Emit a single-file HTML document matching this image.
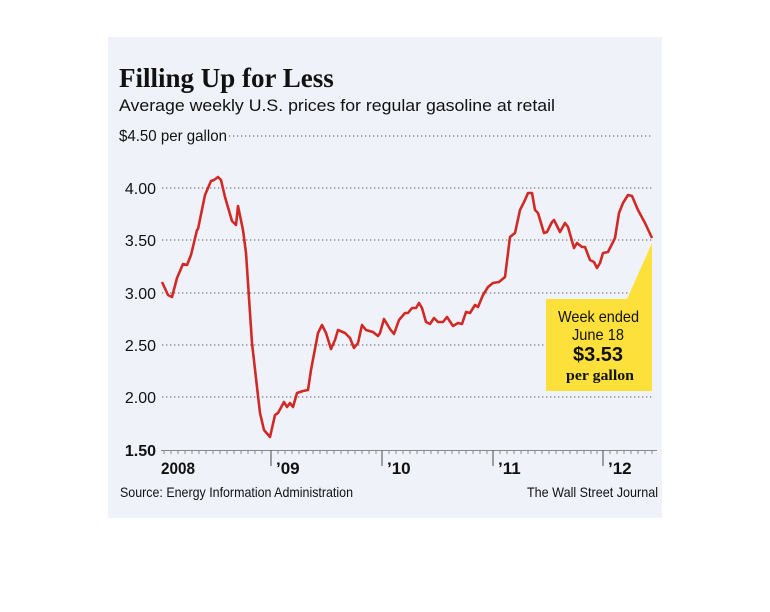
<!DOCTYPE html>
<html><head><meta charset="utf-8"><style>
body{margin:0;background:#fff;width:770px;height:612px;overflow:hidden}
svg{display:block}
.n{font-family:"Liberation Sans",sans-serif}
</style></head><body>
<svg width="770" height="612" viewBox="0 0 770 612" xmlns="http://www.w3.org/2000/svg">
<rect x="108" y="37" width="554" height="481" fill="#eff3f9"/>
<text x="119" y="87" font-family="Liberation Serif,serif" font-weight="bold" font-size="27" fill="#111">Filling Up for Less</text>
<text x="119" y="111" class="n" font-size="17" fill="#111" textLength="436" lengthAdjust="spacingAndGlyphs">Average weekly U.S. prices for regular gasoline at retail</text>
<text x="119" y="141" class="n" font-size="16" fill="#111" textLength="108" lengthAdjust="spacingAndGlyphs">$4.50 per gallon</text>
<g stroke="#777" stroke-width="1.3" stroke-dasharray="1.3 2.7" fill="none">
<line x1="229" y1="136" x2="652" y2="136"/>
<line x1="162" y1="188" x2="652" y2="188"/>
<line x1="162" y1="240" x2="652" y2="240"/>
<line x1="162" y1="293" x2="652" y2="293"/>
<line x1="162" y1="345" x2="652" y2="345"/>
<line x1="162" y1="397" x2="652" y2="397"/>
</g>
<line x1="161" y1="450.5" x2="657" y2="450.5" stroke="#888" stroke-width="1"/>
<g stroke="#888" stroke-width="1">
<path d="M164 450v4M171 450v4M178 450v4M185 450v4M192 450v4M199 450v4M206 450v4M213 450v4M220 450v4M227 450v4M234 450v4M241 450v4M248 450v4M255 450v4M262 450v4M278 450v4M285 450v4M292 450v4M299 450v4M306 450v4M313 450v4M320 450v4M327 450v4M334 450v4M341 450v4M348 450v4M355 450v4M362 450v4M369 450v4M376 450v4M389 450v4M396 450v4M403 450v4M410 450v4M417 450v4M424 450v4M431 450v4M438 450v4M445 450v4M452 450v4M459 450v4M466 450v4M473 450v4M480 450v4M487 450v4M500 450v4M507 450v4M514 450v4M521 450v4M528 450v4M535 450v4M542 450v4M549 450v4M556 450v4M563 450v4M570 450v4M577 450v4M584 450v4M591 450v4M597 450v4M610 450v4M617 450v4M624 450v4M631 450v4M638 450v4M645 450v4M652 450v4"/>
</g>
<g class="n" font-size="16" fill="#111" text-anchor="end">
<text x="156" y="194">4.00</text><text x="156" y="246">3.50</text>
<text x="156" y="299">3.00</text><text x="156" y="351">2.50</text>
<text x="156" y="403">2.00</text><text x="156" y="456" font-weight="bold">1.50</text>
</g>
<g stroke="#666" stroke-width="1.2">
<line x1="271" y1="450" x2="271" y2="466"/><line x1="382" y1="450" x2="382" y2="466"/>
<line x1="493" y1="450" x2="493" y2="466"/><line x1="603" y1="450" x2="603" y2="466"/>
</g>
<g class="n" font-size="17" font-weight="bold" fill="#111">
<text x="161" y="474" textLength="34" lengthAdjust="spacingAndGlyphs">2008</text><text x="276" y="474">’09</text><text x="387" y="474">’10</text>
<text x="498" y="474">’11</text><text x="608" y="474">’12</text>
</g>
<text x="120" y="497" class="n" font-size="14" fill="#111" textLength="233" lengthAdjust="spacingAndGlyphs">Source: Energy Information Administration</text>
<text x="527" y="497" class="n" font-size="14" fill="#111" textLength="131" lengthAdjust="spacingAndGlyphs">The Wall Street Journal</text>
<polygon points="546,299 652,299 652,243 627,299" fill="#fde13a"/>
<rect x="546" y="299" width="106" height="92" fill="#fde13a"/>
<g fill="#111">
<text x="558" y="322" class="n" font-size="16" textLength="81" lengthAdjust="spacingAndGlyphs">Week ended</text>
<text x="572" y="340" class="n" font-size="16" textLength="52" lengthAdjust="spacingAndGlyphs">June 18</text>
<text x="573" y="361" font-family="Liberation Sans,sans-serif" font-weight="bold" font-size="20" textLength="50" lengthAdjust="spacingAndGlyphs">$3.53</text>
<text x="566" y="380" font-family="Liberation Serif,serif" font-weight="bold" font-size="15" textLength="68" lengthAdjust="spacingAndGlyphs">per gallon</text>
</g>
<polyline fill="none" stroke="#d12a26" stroke-width="2.6" stroke-linejoin="round" points="162,282 168,295 172,297 177,278 183,264 187,265 191,255 197,230 198,229 205,195 211,181 214,180 218,177 221,180 225,197 232,221 236,225 238,206 243,230 246,253 252,343 257,387 260,413 264,430 270,437 275,415 278,413 284,402 287,407 290,403 293,407 297,393 303,391 308,390 311,370 318,333 322,325 326,333 331,349 335,340 338,330 345,333 350,338 354,348 358,343 362,325 366,330 373,332 378,336 380,333 384,319 390,329 394,334 399,320 405,313 408,313 412,308 416,308 419,303 422,308 426,322 430,324 434,318 438,322 443,322 447,317 453,326 458,323 462,324 466,312 470,313 475,305 478,307 483,295 488,287 493,283 499,282 505,277 510,237 515,233 520,210 525,200 528,193 532,193 535,210 538,213 544,233 547,232 552,222 554,220 560,232 565,223 568,227 574,248 577,243 582,247 585,247 590,260 594,262 597,268 600,263 603,253 608,252 615,238 619,213 623,203 628,195 632,196 638,210 645,223 652,238"/>
</svg>
</body></html>
